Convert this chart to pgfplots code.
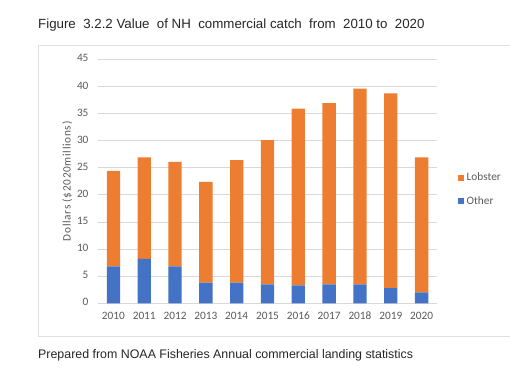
\documentclass[border=0pt]{standalone}
\usepackage{pgfplots}
\pgfplotsset{compat=1.18}
\usepackage{fontspec}
\setmainfont{Liberation Sans}
\newfontfamily\calibri{Carlito}
\newfontfamily\calibrisp[LetterSpace=6]{Carlito}
\definecolor{lobster}{HTML}{ED7D31}
\definecolor{other}{HTML}{4472C4}
\definecolor{gridc}{HTML}{D9D9D9}
\definecolor{tickc}{HTML}{595959}
\begin{document}
\begin{tikzpicture}[x=1pt,y=1pt]
\path[use as bounding box] (0,0) rectangle (510,382);
\draw[gray!25, line width=0.8pt] (38,46) rectangle (514,337);
\node[anchor=base west, inner sep=0pt, font=\fontsize{13.3}{15}\selectfont, text=black!85] at (38,353.7) {Figure\ \ 3.2.2 Value\ \ of NH\ \ commercial catch\ \ from\ \ 2010 to\ \ 2020};
\node[anchor=base west, inner sep=0pt, font=\fontsize{12.4}{14}\selectfont, text=black!85] at (38,23.7) {Prepared from NOAA Fisheries Annual commercial landing statistics};
\begin{axis}[
  at={(98pt,78.7pt)}, anchor=south west,
  scale only axis, width=339pt, height=244pt,
  ybar stacked, bar width=13.3pt,
  xmin=-0.5, xmax=10.5, ymin=0, ymax=45,
  xtick={0,...,10},
  xticklabels={2010,2011,2012,2013,2014,2015,2016,2017,2018,2019,2020},
  ytick={0,5,...,45},
  axis line style={draw=none},
  major tick length=0pt,
  ymajorgrids, major grid style={gridc, line width=0.8pt},
  tick label style={font=\calibri\fontsize{11.3}{13}\selectfont, text=tickc},
  typeset ticklabels with strut,
  /pgf/number format/assume math mode=true,
  xticklabel style={yshift=-4pt},
  yticklabel style={xshift=-6pt},
  ylabel={Dollars (\$2020millions)},
  ylabel style={font=\calibrisp\fontsize{11.3}{13}\selectfont, text=tickc, yshift=-2pt},
  legend style={draw=none, fill=none, at={(1.062,0.467)}, anchor=west, font=\calibri\fontsize{11.3}{13}\selectfont, text=tickc, row sep=10pt, legend cell align=left, inner sep=0pt, nodes={inner xsep=3pt}},
  legend image code/.code={\fill[#1] (0pt,-3pt) rectangle (5.5pt,3pt);},
  reverse legend,
]
\addplot[fill=other, draw=none] coordinates {(0,6.8) (1,8.2) (2,6.8) (3,3.8) (4,3.8) (5,3.5) (6,3.3) (7,3.5) (8,3.5) (9,2.8) (10,2.0)};
\addplot[fill=lobster, draw=none] coordinates {(0,17.6) (1,18.7) (2,19.3) (3,18.6) (4,22.6) (5,26.6) (6,32.6) (7,33.4) (8,36.1) (9,35.9) (10,24.9)};
\legend{Other,Lobster}
\end{axis}
\end{tikzpicture}
\end{document}
